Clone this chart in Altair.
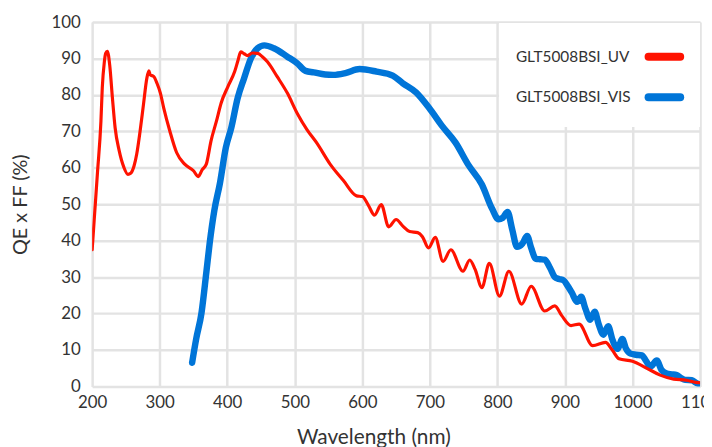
import altair as alt
import pandas as pd

# ---- data ----
uv_nm = [200, 203, 208, 213, 215, 218, 220, 222.5, 226, 230, 234, 240, 247, 253, 257, 262, 266,
         271, 276, 281, 284, 286, 291, 296, 301, 306, 315, 325, 337, 350, 357, 363, 369, 376,
         384, 391, 401, 411, 416, 420, 425, 430, 437, 445, 452, 459.5, 474, 489, 503.5, 518,
         533, 552, 572, 591.5, 600, 609, 618, 628, 639, 650, 660, 670, 682, 689, 698, 708,
         719.5, 731, 749, 759, 767, 777, 788, 803, 817, 836, 850, 870, 885, 895, 909, 921,
         941, 960, 970, 980, 1000, 1022, 1041, 1061, 1080, 1094, 1100]
uv_qe = [37.5, 45.6, 59, 72.8, 82, 89, 91.4, 92, 88.2, 79.2, 71, 64.7, 60.1, 58.2, 58.5, 60.5, 63.8,
         70.1, 77.4, 84.6, 86.6, 85.5, 85.1, 83.2, 80.5, 76.4, 70.1, 64.2, 61, 59.2, 57.6, 59.5, 61, 67.4,
         72.8, 77.8, 82.3, 86.4, 89.5, 91.8, 91.3, 90.8, 91.5, 91.4, 90.5, 89.1, 85.0, 80.5, 75, 70.5,
         66.7, 61.1, 56.5, 52.3, 52.1, 49.7, 47.0, 49.9, 43.8, 45.8, 44, 42.5, 42.2, 41.1, 38.0, 40.9,
         34.3, 37.5, 31.6, 34.7, 32.1, 27.1, 33.8, 24.8, 31.6, 22.6, 27.5, 20.7, 22.1, 19.5, 16.7, 17.1,
         11.2, 12.1, 10, 7.6, 6.9, 4.9, 3.1, 2.0, 1.7, 1.1, 1.0]

vis_nm = [348, 354, 362, 369, 374, 381, 389, 398, 406, 415.5, 425, 435, 445, 455, 469, 489, 503.5,
          516, 528, 545, 557, 575, 596, 621, 645, 660, 679.5, 699, 718, 738, 757, 777, 792, 801.6,
          808, 815, 822, 829, 837, 844, 850, 857, 863, 870, 878, 885, 891, 898, 904, 910, 918, 924,
          930, 937.5, 944, 950, 957, 964, 970, 977.6, 985, 990, 997, 1005, 1014, 1020, 1026.5, 1036,
          1043, 1051, 1058, 1065.5, 1072, 1078, 1088, 1094, 1100]
vis_qe = [6.5, 13, 20.3, 31.2, 39.3, 48.4, 55.6, 65.6, 71, 79.2, 84.6, 90, 92.8, 93.6, 92.8, 90.5, 88.7,
          86.6, 86.2, 85.6, 85.5, 86.0, 87.1, 86.4, 85.3, 83.2, 80.7, 76.4, 71.5, 66.9, 60.8, 55.4, 48.8, 45.9,
          46.3, 47.9, 43, 38.3, 39.2, 41.3, 38, 35, 34.9, 34.8, 32.5, 30, 29.5, 29.1, 27.6, 25.8, 23.2, 24.6,
          21.5, 18.3, 20.5, 17, 14.2, 16.5, 13, 10.3, 13.0, 10.5, 9.0, 8.7, 8.5, 7, 5.4, 7.1,
          4.5, 3.5, 3.3, 3.1, 2.3, 1.8, 1.7, 1.0, 0.5]

series_names = ["GLT5008BSI_UV", "GLT5008BSI_VIS"]
series_colors = ["#ff1200", "#0075d8"]
series_widths = [3.2, 6.5]
x_ticks = list(range(200, 1101, 100))
y_ticks = list(range(0, 101, 10))

FONT = "Lato"
TXT = "#333333"
GRID = "#e3e3e3"

df_uv = pd.DataFrame({"nm": uv_nm, "qe": uv_qe})
df_vis = pd.DataFrame({"nm": vis_nm, "qe": vis_qe})

x_enc = alt.X("nm:Q",
              scale=alt.Scale(domain=[200, 1100], nice=False),
              axis=alt.Axis(values=x_ticks, format="d", title="Wavelength (nm)", grid=True,
                            gridColor=GRID, gridWidth=2.5, domain=False, ticks=False,
                            labelFlush=False, labelOverlap=False,
                            labelFontSize=17, labelColor=TXT, labelFont=FONT,
                            labelPadding=8, titleFont=FONT, titleFontSize=21,
                            titleX=284, titleFontWeight="normal", titleColor=TXT, titlePadding=17))
y_enc = alt.Y("qe:Q",
              scale=alt.Scale(domain=[0, 100], nice=False),
              axis=alt.Axis(values=y_ticks, format="d", title="QE x FF (%)", grid=True,
                            gridColor=GRID, gridWidth=2.5, domain=False, ticks=False,
                            labelFlush=False,
                            labelFontSize=17, labelColor=TXT, labelFont=FONT,
                            labelPadding=12, titleFont=FONT, titleFontSize=20,
                            titleFontWeight="normal", titleColor=TXT, titlePadding=21))

vis_line = alt.Chart(df_vis).mark_line(
    color=series_colors[1], strokeWidth=series_widths[1], interpolate="monotone",
    strokeCap="round", strokeJoin="round", clip=True).encode(x=x_enc, y=y_enc)
uv_line = alt.Chart(df_uv).mark_line(
    color=series_colors[0], strokeWidth=series_widths[0], interpolate="monotone",
    strokeCap="round", strokeJoin="round", clip=True).encode(x=x_enc, y=y_enc)

one = pd.DataFrame({"k": [0]})
legend_box = alt.Chart(one).mark_rect(color="white").encode(
    x=alt.value(411), x2=alt.value(614), y=alt.value(1), y2=alt.value(106))

layers = [vis_line, uv_line, legend_box]
for i, (name, col) in enumerate(zip(series_names, series_colors)):
    yy = 35 + 41 * i
    layers.append(alt.Chart(one).mark_text(
        align="left", baseline="middle", fontSize=15.5, font=FONT, color=TXT).encode(
        x=alt.value(428), y=alt.value(yy), text=alt.value(name)))
    layers.append(alt.Chart(one).mark_rule(
        color=col, strokeWidth=8, strokeCap="round").encode(
        x=alt.value(562), x2=alt.value(594), y=alt.value(yy)))

chart = alt.layer(*layers).properties(
    width=614, height=368,
    autosize=alt.AutoSizeParams(type="none"),
    padding={"left": 85, "top": 12, "right": 4, "bottom": 59},
).configure_view(stroke=None).configure(background="white")

chart.save("out.html", embed_options={"renderer": "svg", "actions": False})
